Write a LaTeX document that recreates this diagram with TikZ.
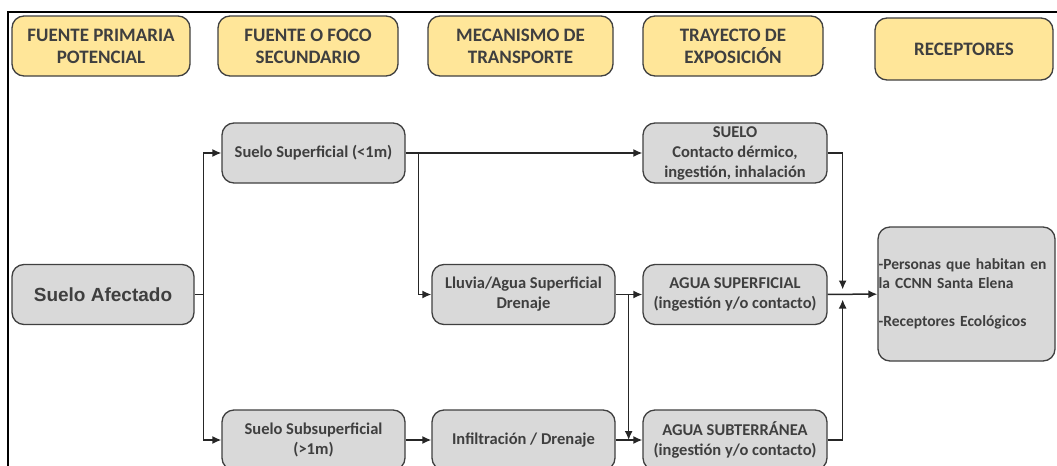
\documentclass[tikz,border=0pt]{standalone}
\usepackage{fontspec}
\setmainfont{Carlito}
\newfontfamily\arialfont{Liberation Sans}
\usetikzlibrary{arrows.meta}
\definecolor{headfill}{HTML}{FFE699}
\definecolor{boxfill}{HTML}{D9D9D9}
\definecolor{boxline}{HTML}{404040}
\definecolor{boxtext}{HTML}{3F3F3F}

\begin{document}
\begin{tikzpicture}[
  >={Latex[length=9bp,width=8bp]},
  head/.style={draw=boxline,line width=1.3bp,rounded corners=12bp,fill=headfill,text=boxtext,align=center,inner sep=0pt,minimum height=60bp,font=\fontsize{19bp}{22bp}\selectfont\bfseries},
  gbox/.style={draw=boxline,line width=1.3bp,rounded corners=12bp,fill=boxfill,text=boxtext,align=center,inner sep=0pt,minimum width=183bp,minimum height=60bp,font=\fontsize{16.5bp}{20bp}\selectfont\bfseries},
  link/.style={->,line width=1.5bp,draw=black!85}
]
\useasboundingbox (0,0) rectangle (1057bp,-466bp);
\fill[white] (0,0) rectangle (1057bp,-466bp);
% frame
\draw[line width=2bp] (8bp,-466bp) -- (8bp,-12bp) -- (1057bp,-12bp);

% column headers
\node (hprim) at (101bp,-46bp)[head,minimum width=178bp] {FUENTE PRIMARIA\\POTENCIAL};
\node (hsec) at (308bp,-46bp)[head,minimum width=180bp] {FUENTE O FOCO\\SECUNDARIO};
\node (hmec) at (520.5bp,-46bp)[head,minimum width=185bp] {MECANISMO DE\\TRANSPORTE};
\node (htray) at (733bp,-46bp)[head,minimum width=180bp] {TRAYECTO DE\\EXPOSICIÓN};
\node (hrec) at (964bp,-49bp)[head,minimum width=178bp,minimum height=62bp] {RECEPTORES};

% boxes
\node (afect) at (103bp,-294.5bp)[gbox,minimum width=182bp,font=\arialfont\fontsize{19bp}{23bp}\selectfont\bfseries] {Suelo Afectado};
\node (supsup) at (313.5bp,-153bp)[gbox] {Suelo Superficial (<1m)};
\node (subsup) at (313.5bp,-440bp)[gbox] {Suelo Subsuperficial\\(>1m)};
\node (lluvia) at (523.5bp,-294.5bp)[gbox] {Lluvia/Agua Superficial\\Drenaje};
\node (infil) at (523.5bp,-440bp)[gbox] {Infiltración / Drenaje};
\node (suelo) at (735bp,-153bp)[gbox,minimum width=184bp] {SUELO\\Contacto dérmico,\\ingestión, inhalación};
\node (aguasup) at (735bp,-294.5bp)[gbox,minimum width=184bp] {AGUA SUPERFICIAL\\(ingestión y/o contacto)};
\node (aguasub) at (735bp,-440bp)[gbox,minimum width=184bp] {AGUA SUBTERRÁNEA\\(ingestión y/o contacto)};
\node (recep) at (966.5bp,-294bp)[gbox,minimum width=177bp,minimum height=134bp,align=left,text width=176bp,inner xsep=0.5bp,font=\fontsize{15.5bp}{19bp}\selectfont\bfseries] {-Personas que habitan en\\la CCNN Santa Elena\\[19bp]-Receptores Ecológicos};

% junctions
\coordinate (jafect) at ([xshift=9bp]afect.east);
\coordinate (jsup) at ([xshift=13bp]supsup.east);
\coordinate (jlluvia) at ([xshift=13bp]lluvia.east);
\coordinate (jrec) at ([xshift=15bp]aguasup.east);

% connectors
\draw [line width=1.5bp,draw=black!85] (afect.east) -- (jafect);
\draw [link] (jafect) |- (supsup.west);
\draw [link] (jafect) |- (subsup.west);
\draw [link] (supsup) -- (suelo);
\draw [link] (jsup) |- (lluvia.west);
\draw [link] (lluvia) -- (aguasup);
\draw [link] (jlluvia) -- (jlluvia |- aguasub.west);
\draw [link] (subsup) -- (infil);
\draw [link] (infil) -- (aguasub);
\draw [link] (suelo.east) -| ([yshift=5bp]jrec);
\draw [link] (aguasub.east) -| ([yshift=-5bp]jrec);
\draw [link] (aguasup) -- (recep);
\end{tikzpicture}
\end{document}
